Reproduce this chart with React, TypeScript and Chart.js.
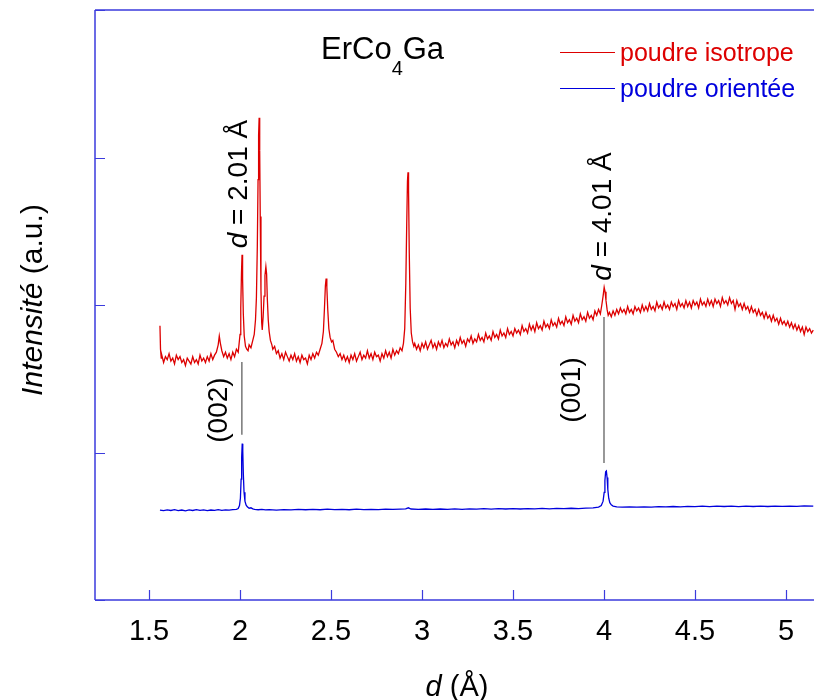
import React, { useEffect, useRef } from "react";
import { Chart, registerables } from "chart.js";

Chart.register(...registerables);

const FAMILY = '"Liberation Sans", Arial, Helvetica, sans-serif';
const AXIS = "#3b3bdd";
const RED = "rgb(221,0,0)";
const BLUE = "rgb(0,0,221)";

const xTicks = [1.5, 2, 2.5, 3, 3.5, 4, 4.5, 5];
const xTickLabels = ["1.5", "2", "2.5", "3", "3.5", "4", "4.5", "5"];
const yTicks = [0, 1, 2, 3, 4];

// poudre isotrope: [d (Å), intensité]
const isotrope: [number, number][] = [
  [1.56, 1.86], [1.563, 1.7], [1.567, 1.64], [1.57, 1.66], [1.58, 1.61], [1.59, 1.65], [1.6, 1.63], [1.61, 1.67],
  [1.62, 1.62], [1.63, 1.64], [1.64, 1.6], [1.65, 1.66], [1.66, 1.63], [1.67, 1.65], [1.68, 1.61], [1.69, 1.63],
  [1.7, 1.59], [1.71, 1.64], [1.72, 1.62], [1.73, 1.6], [1.74, 1.65], [1.75, 1.61], [1.76, 1.63], [1.77, 1.6],
  [1.78, 1.66], [1.79, 1.62], [1.8, 1.64], [1.81, 1.61], [1.82, 1.65], [1.83, 1.62], [1.84, 1.67], [1.85, 1.63],
  [1.86, 1.66], [1.87, 1.68], [1.88, 1.73], [1.886, 1.79], [1.892, 1.74], [1.9, 1.69], [1.91, 1.65], [1.92, 1.68],
  [1.93, 1.64], [1.94, 1.67], [1.95, 1.63], [1.96, 1.68], [1.97, 1.65], [1.98, 1.7], [1.99, 1.68], [1.995, 1.74],
  [2.0, 1.8], [2.004, 1.98], [2.008, 2.22], [2.011, 2.34], [2.014, 2.18], [2.018, 1.94], [2.023, 1.79], [2.03, 1.72],
  [2.037, 1.7], [2.044, 1.69], [2.05, 1.73], [2.06, 1.71], [2.07, 1.76], [2.078, 1.8], [2.085, 1.9], [2.09, 2.05],
  [2.095, 2.4], [2.099, 2.85], [2.102, 3.15], [2.105, 3.27], [2.108, 3.05], [2.111, 2.6], [2.115, 2.1], [2.119, 1.88],
  [2.122, 1.83], [2.127, 1.92], [2.132, 2.06], [2.137, 2.2], [2.142, 2.26], [2.146, 2.21], [2.15, 2.04], [2.155, 1.9],
  [2.16, 1.82], [2.167, 1.76], [2.175, 1.73], [2.18, 1.7], [2.19, 1.72], [2.2, 1.67], [2.21, 1.69], [2.22, 1.64],
  [2.23, 1.67], [2.24, 1.63], [2.25, 1.68], [2.26, 1.65], [2.27, 1.62], [2.28, 1.66], [2.29, 1.63], [2.3, 1.67],
  [2.31, 1.62], [2.32, 1.65], [2.33, 1.61], [2.34, 1.66], [2.35, 1.63], [2.36, 1.64], [2.37, 1.6], [2.38, 1.66],
  [2.39, 1.63], [2.4, 1.67], [2.41, 1.64], [2.42, 1.68], [2.43, 1.66], [2.44, 1.7], [2.45, 1.74], [2.458, 1.82],
  [2.464, 1.98], [2.469, 2.13], [2.473, 2.18], [2.477, 2.12], [2.482, 1.97], [2.488, 1.84], [2.495, 1.78], [2.503, 1.75],
  [2.51, 1.76], [2.52, 1.7], [2.53, 1.68], [2.54, 1.65], [2.55, 1.67], [2.56, 1.63], [2.57, 1.66], [2.58, 1.62],
  [2.59, 1.65], [2.6, 1.61], [2.61, 1.66], [2.62, 1.63], [2.63, 1.67], [2.64, 1.62], [2.65, 1.65], [2.66, 1.68],
  [2.67, 1.63], [2.68, 1.66], [2.69, 1.64], [2.7, 1.69], [2.71, 1.64], [2.72, 1.67], [2.73, 1.63], [2.74, 1.68],
  [2.75, 1.65], [2.76, 1.66], [2.77, 1.62], [2.78, 1.67], [2.79, 1.64], [2.8, 1.69], [2.81, 1.65], [2.82, 1.68],
  [2.83, 1.64], [2.84, 1.7], [2.85, 1.66], [2.86, 1.69], [2.87, 1.67], [2.88, 1.71], [2.89, 1.69], [2.898, 1.74],
  [2.905, 1.84], [2.911, 2.15], [2.916, 2.55], [2.92, 2.84], [2.923, 2.9], [2.926, 2.78], [2.93, 2.35], [2.935, 1.98],
  [2.941, 1.81], [2.948, 1.75], [2.955, 1.72], [2.96, 1.74], [2.97, 1.7], [2.98, 1.73], [2.99, 1.69], [3.0, 1.74],
  [3.01, 1.71], [3.02, 1.75], [3.03, 1.7], [3.04, 1.73], [3.05, 1.76], [3.06, 1.71], [3.07, 1.74], [3.08, 1.7],
  [3.09, 1.75], [3.1, 1.72], [3.11, 1.76], [3.12, 1.71], [3.13, 1.74], [3.14, 1.72], [3.15, 1.77], [3.16, 1.73],
  [3.17, 1.75], [3.18, 1.71], [3.19, 1.76], [3.2, 1.73], [3.21, 1.78], [3.22, 1.74], [3.23, 1.76], [3.24, 1.72],
  [3.25, 1.77], [3.26, 1.75], [3.27, 1.79], [3.28, 1.74], [3.29, 1.77], [3.3, 1.75], [3.31, 1.8], [3.32, 1.76],
  [3.33, 1.78], [3.34, 1.75], [3.35, 1.81], [3.36, 1.77], [3.37, 1.79], [3.38, 1.76], [3.39, 1.82], [3.4, 1.78],
  [3.41, 1.8], [3.42, 1.77], [3.43, 1.83], [3.44, 1.79], [3.45, 1.81], [3.46, 1.78], [3.47, 1.84], [3.48, 1.8],
  [3.49, 1.82], [3.5, 1.79], [3.51, 1.84], [3.52, 1.81], [3.53, 1.83], [3.54, 1.8], [3.55, 1.86], [3.56, 1.82],
  [3.57, 1.84], [3.58, 1.81], [3.59, 1.87], [3.6, 1.83], [3.61, 1.86], [3.62, 1.82], [3.63, 1.88], [3.64, 1.84],
  [3.65, 1.86], [3.66, 1.83], [3.67, 1.89], [3.68, 1.85], [3.69, 1.87], [3.7, 1.84], [3.71, 1.9], [3.72, 1.86],
  [3.73, 1.88], [3.74, 1.85], [3.75, 1.91], [3.76, 1.87], [3.77, 1.89], [3.78, 1.86], [3.79, 1.92], [3.8, 1.88],
  [3.81, 1.9], [3.82, 1.87], [3.83, 1.93], [3.84, 1.89], [3.85, 1.91], [3.86, 1.88], [3.87, 1.94], [3.88, 1.9],
  [3.89, 1.92], [3.9, 1.89], [3.91, 1.95], [3.92, 1.91], [3.93, 1.93], [3.94, 1.9], [3.95, 1.96], [3.96, 1.93],
  [3.97, 1.97], [3.98, 1.94], [3.988, 2.0], [3.995, 2.06], [4.001, 2.12], [4.006, 2.09], [4.011, 2.03], [4.017, 1.97],
  [4.023, 1.93], [4.03, 1.95], [4.04, 1.92], [4.05, 1.96], [4.06, 1.93], [4.07, 1.97], [4.08, 1.94], [4.09, 1.98],
  [4.1, 1.95], [4.11, 1.97], [4.12, 1.94], [4.13, 1.99], [4.14, 1.95], [4.15, 1.97], [4.16, 1.94], [4.17, 1.99],
  [4.18, 1.96], [4.19, 1.98], [4.2, 1.95], [4.21, 2.0], [4.22, 1.96], [4.23, 1.99], [4.24, 1.96], [4.25, 2.01],
  [4.26, 1.97], [4.27, 1.99], [4.28, 1.96], [4.29, 2.02], [4.3, 1.98], [4.31, 2.0], [4.32, 1.97], [4.33, 2.02],
  [4.34, 1.98], [4.35, 2.0], [4.36, 1.97], [4.37, 2.02], [4.38, 1.99], [4.39, 2.01], [4.4, 1.97], [4.41, 2.03],
  [4.42, 1.99], [4.43, 2.01], [4.44, 1.98], [4.45, 2.03], [4.46, 1.99], [4.47, 2.02], [4.48, 1.98], [4.49, 2.03],
  [4.5, 2.0], [4.51, 2.02], [4.52, 1.98], [4.53, 2.04], [4.54, 2.0], [4.55, 2.02], [4.56, 1.99], [4.57, 2.04],
  [4.58, 2.0], [4.59, 2.03], [4.6, 1.99], [4.61, 2.04], [4.62, 2.01], [4.63, 2.03], [4.64, 1.99], [4.65, 2.05],
  [4.66, 2.01], [4.67, 2.03], [4.68, 2.0], [4.69, 2.05], [4.7, 2.01], [4.71, 2.03], [4.72, 1.97], [4.73, 2.03],
  [4.74, 1.99], [4.75, 2.01], [4.76, 1.97], [4.77, 2.01], [4.78, 1.97], [4.79, 1.99], [4.8, 1.95], [4.81, 1.99],
  [4.82, 1.95], [4.83, 1.97], [4.84, 1.93], [4.85, 1.97], [4.86, 1.93], [4.87, 1.95], [4.88, 1.91], [4.89, 1.95],
  [4.9, 1.91], [4.91, 1.93], [4.92, 1.89], [4.93, 1.93], [4.94, 1.89], [4.95, 1.91], [4.96, 1.87], [4.97, 1.91],
  [4.98, 1.87], [4.99, 1.89], [5.0, 1.86], [5.01, 1.89], [5.02, 1.85], [5.03, 1.88], [5.04, 1.84], [5.05, 1.87],
  [5.06, 1.83], [5.07, 1.86], [5.08, 1.82], [5.09, 1.85], [5.1, 1.8], [5.11, 1.85], [5.12, 1.82], [5.13, 1.84],
  [5.14, 1.81], [5.15, 1.83],
];

// poudre orientée: [d (Å), intensité]
const orientee: [number, number][] = [
  [1.56, 0.61], [1.58, 0.606], [1.6, 0.611], [1.62, 0.607], [1.64, 0.612], [1.66, 0.606], [1.68, 0.61], [1.7, 0.605],
  [1.72, 0.611], [1.74, 0.607], [1.76, 0.612], [1.78, 0.608], [1.8, 0.611], [1.82, 0.606], [1.84, 0.61], [1.86, 0.608],
  [1.88, 0.612], [1.9, 0.608], [1.92, 0.611], [1.94, 0.609], [1.96, 0.613], [1.98, 0.615], [1.99, 0.62], [1.997, 0.64],
  [2.002, 0.69], [2.006, 0.82], [2.009, 0.97], [2.012, 1.06], [2.015, 1.01], [2.018, 0.86], [2.022, 0.73], [2.027, 0.67],
  [2.033, 0.645], [2.04, 0.632], [2.05, 0.622], [2.06, 0.625], [2.07, 0.618], [2.08, 0.615], [2.1, 0.612], [2.12, 0.615],
  [2.14, 0.611], [2.16, 0.613], [2.2, 0.61], [2.24, 0.613], [2.28, 0.611], [2.32, 0.614], [2.36, 0.612], [2.4, 0.615],
  [2.44, 0.612], [2.48, 0.616], [2.52, 0.613], [2.56, 0.614], [2.6, 0.612], [2.64, 0.616], [2.68, 0.613], [2.72, 0.615],
  [2.76, 0.613], [2.8, 0.616], [2.84, 0.614], [2.88, 0.616], [2.91, 0.618], [2.925, 0.625], [2.94, 0.617], [2.98, 0.615],
  [3.02, 0.617], [3.06, 0.614], [3.1, 0.617], [3.14, 0.615], [3.18, 0.618], [3.22, 0.615], [3.26, 0.618], [3.3, 0.616],
  [3.34, 0.619], [3.38, 0.616], [3.42, 0.619], [3.46, 0.617], [3.5, 0.62], [3.54, 0.617], [3.58, 0.62], [3.62, 0.618],
  [3.66, 0.621], [3.7, 0.618], [3.74, 0.621], [3.78, 0.619], [3.82, 0.622], [3.86, 0.62], [3.9, 0.623], [3.94, 0.624],
  [3.97, 0.63], [3.985, 0.64], [3.995, 0.67], [4.001, 0.73], [4.005, 0.81], [4.009, 0.87], [4.013, 0.875], [4.017, 0.83],
  [4.021, 0.75], [4.026, 0.69], [4.032, 0.66], [4.04, 0.645], [4.05, 0.637], [4.07, 0.632], [4.1, 0.63], [4.14, 0.632],
  [4.18, 0.629], [4.22, 0.632], [4.26, 0.63], [4.3, 0.633], [4.34, 0.631], [4.38, 0.634], [4.42, 0.632], [4.46, 0.635],
  [4.5, 0.633], [4.54, 0.636], [4.58, 0.633], [4.62, 0.636], [4.66, 0.634], [4.7, 0.636], [4.74, 0.633], [4.78, 0.636],
  [4.82, 0.634], [4.86, 0.637], [4.9, 0.634], [4.94, 0.637], [4.98, 0.635], [5.02, 0.637], [5.06, 0.635], [5.1, 0.638],
  [5.15, 0.636],
];

// peak markers
const markerD = [2.01, 4.0];
const markerTop = [1.614, 1.919];
const markerBottom = [1.12, 0.929];
const markerValue = ["2.01", "4.01"];
const markerHkl = ["(002)", "(001)"];
const markerValueY = [2.82, 2.6];
const markerHklY = [1.288, 1.424];

const seriesNames = ["poudre isotrope", "poudre orientée"];

type Part = [string, boolean];

function drawParts(
  ctx: CanvasRenderingContext2D,
  parts: Part[],
  size: number,
  cx: number,
  cy: number,
  rot: number
) {
  ctx.save();
  ctx.translate(cx, cy);
  ctx.rotate(rot);
  const fonts = parts.map(([, it]) => `${it ? "italic " : ""}${size}px ${FAMILY}`);
  let total = 0;
  const widths = parts.map(([t], i) => {
    ctx.font = fonts[i];
    const w = ctx.measureText(t).width;
    total += w;
    return w;
  });
  let xx = -total / 2;
  ctx.textAlign = "left";
  ctx.textBaseline = "alphabetic";
  parts.forEach(([t], i) => {
    ctx.font = fonts[i];
    ctx.fillText(t, xx, 0);
    xx += widths[i];
  });
  ctx.restore();
}

const decor = {
  id: "decor",
  afterDraw(chart: any) {
    const { ctx, chartArea: a } = chart;
    const xs = chart.scales.x;
    const ys = chart.scales.y;
    ctx.save();
    // frame
    ctx.strokeStyle = AXIS;
    ctx.lineWidth = 1.5;
    ctx.beginPath();
    ctx.moveTo(a.left, a.top);
    ctx.lineTo(a.right, a.top);
    ctx.moveTo(a.left, a.top);
    ctx.lineTo(a.left, a.bottom);
    ctx.moveTo(a.left, a.bottom);
    ctx.lineTo(a.right, a.bottom);
    ctx.stroke();
    // inward ticks
    ctx.lineWidth = 1.2;
    ctx.beginPath();
    xTicks.forEach((v) => {
      const px = Math.round(xs.getPixelForValue(v)) + 0.5;
      ctx.moveTo(px, a.bottom);
      ctx.lineTo(px, a.bottom - 10);
    });
    yTicks.forEach((v) => {
      const py = Math.round(ys.getPixelForValue(v)) + 0.5;
      ctx.moveTo(a.left, py);
      ctx.lineTo(a.left + 10, py);
    });
    ctx.stroke();

    // peak marker lines
    ctx.strokeStyle = "#777777";
    ctx.lineWidth = 1.5;
    ctx.beginPath();
    markerD.forEach((d, i) => {
      const px = xs.getPixelForValue(d);
      ctx.moveTo(px, ys.getPixelForValue(markerTop[i]));
      ctx.lineTo(px, ys.getPixelForValue(markerBottom[i]));
    });
    ctx.stroke();

    ctx.fillStyle = "#000";
    const valOffset = [5, 7];
    const hklOffset = [-15, -23.5];
    markerD.forEach((d, i) => {
      const px = xs.getPixelForValue(d);
      drawParts(
        ctx,
        [["d", true], [` = ${markerValue[i]} Å`, false]],
        28,
        px + valOffset[i],
        ys.getPixelForValue(markerValueY[i]),
        -Math.PI / 2
      );
      drawParts(ctx, [[markerHkl[i], false]], 28, px + hklOffset[i], ys.getPixelForValue(markerHklY[i]), -Math.PI / 2);
    });

    // title ErCo4Ga
    ctx.textAlign = "left";
    ctx.textBaseline = "alphabetic";
    ctx.font = `31px ${FAMILY}`;
    let tx = 321;
    ctx.fillText("ErCo", tx, 59);
    tx += ctx.measureText("ErCo").width;
    ctx.font = `20px ${FAMILY}`;
    ctx.fillText("4", tx, 75);
    tx += ctx.measureText("4").width;
    ctx.font = `31px ${FAMILY}`;
    ctx.fillText("Ga", tx, 59);

    // legend
    const colors = [RED, BLUE];
    const legendLineY = [52, 88];
    const legendTextY = [60.5, 97];
    seriesNames.forEach((name, i) => {
      ctx.strokeStyle = colors[i];
      ctx.lineWidth = 1;
      ctx.beginPath();
      ctx.moveTo(560, legendLineY[i] + 0.5);
      ctx.lineTo(615, legendLineY[i] + 0.5);
      ctx.stroke();
      ctx.fillStyle = colors[i];
      ctx.font = `25px ${FAMILY}`;
      ctx.fillText(name, 620, legendTextY[i]);
    });

    // axis titles
    ctx.fillStyle = "#000";
    drawParts(ctx, [["d", true], [" (Å)", false]], 29, 457, 696, 0);
    drawParts(ctx, [["Intensité", true], [" (a.u.)", false]], 30, 42, 300, -Math.PI / 2);

    ctx.restore();
  },
};

export default function App() {
  const ref = useRef<HTMLCanvasElement>(null);
  useEffect(() => {
    const chart = new Chart(ref.current as HTMLCanvasElement, {
      type: "scatter",
      data: {
        datasets: [
          {
            label: seriesNames[0],
            data: isotrope.map(([x, y]) => ({ x, y })),
            showLine: true,
            borderColor: RED,
            backgroundColor: RED,
            borderWidth: 1.3,
            pointRadius: 0,
            tension: 0,
          },
          {
            label: seriesNames[1],
            data: orientee.map(([x, y]) => ({ x, y })),
            showLine: true,
            borderColor: BLUE,
            backgroundColor: BLUE,
            borderWidth: 1.3,
            pointRadius: 0,
            tension: 0,
          },
        ],
      },
      options: {
        animation: false,
        responsive: false,
        maintainAspectRatio: false,
        layout: { padding: { top: 10, right: 0, left: 0, bottom: 0 } },
        plugins: { legend: { display: false }, tooltip: { enabled: false } },
        scales: {
          x: {
            type: "linear",
            min: 1.203,
            max: 5.154,
            afterBuildTicks: (s: any) => {
              s.ticks = xTicks.map((v) => ({ value: v }));
            },
            afterFit: (s: any) => {
              s.height = 100;
            },
            ticks: {
              autoSkip: false,
              maxRotation: 0,
              padding: 15,
              color: "#000",
              font: { size: 29, family: FAMILY },
              callback: (v: any) => {
                const i = xTicks.indexOf(Number(v));
                return i >= 0 ? xTickLabels[i] : "";
              },
            },
            grid: { display: false, drawTicks: false },
            border: { display: false },
          },
          y: {
            type: "linear",
            min: 0,
            max: 4,
            afterBuildTicks: (s: any) => {
              s.ticks = yTicks.map((v) => ({ value: v }));
            },
            afterFit: (s: any) => {
              s.width = 95;
            },
            ticks: { display: false },
            grid: { display: false, drawTicks: false },
            border: { display: false },
          },
        },
      },
      plugins: [decor],
    });
    return () => chart.destroy();
  }, []);
  return (
    <div style={{ position: "fixed", left: 0, top: 0, width: 814, height: 700, background: "#fff" }}>
      <canvas ref={ref} width={814} height={700} style={{ width: 814, height: 700, display: "block" }} />
    </div>
  );
}
